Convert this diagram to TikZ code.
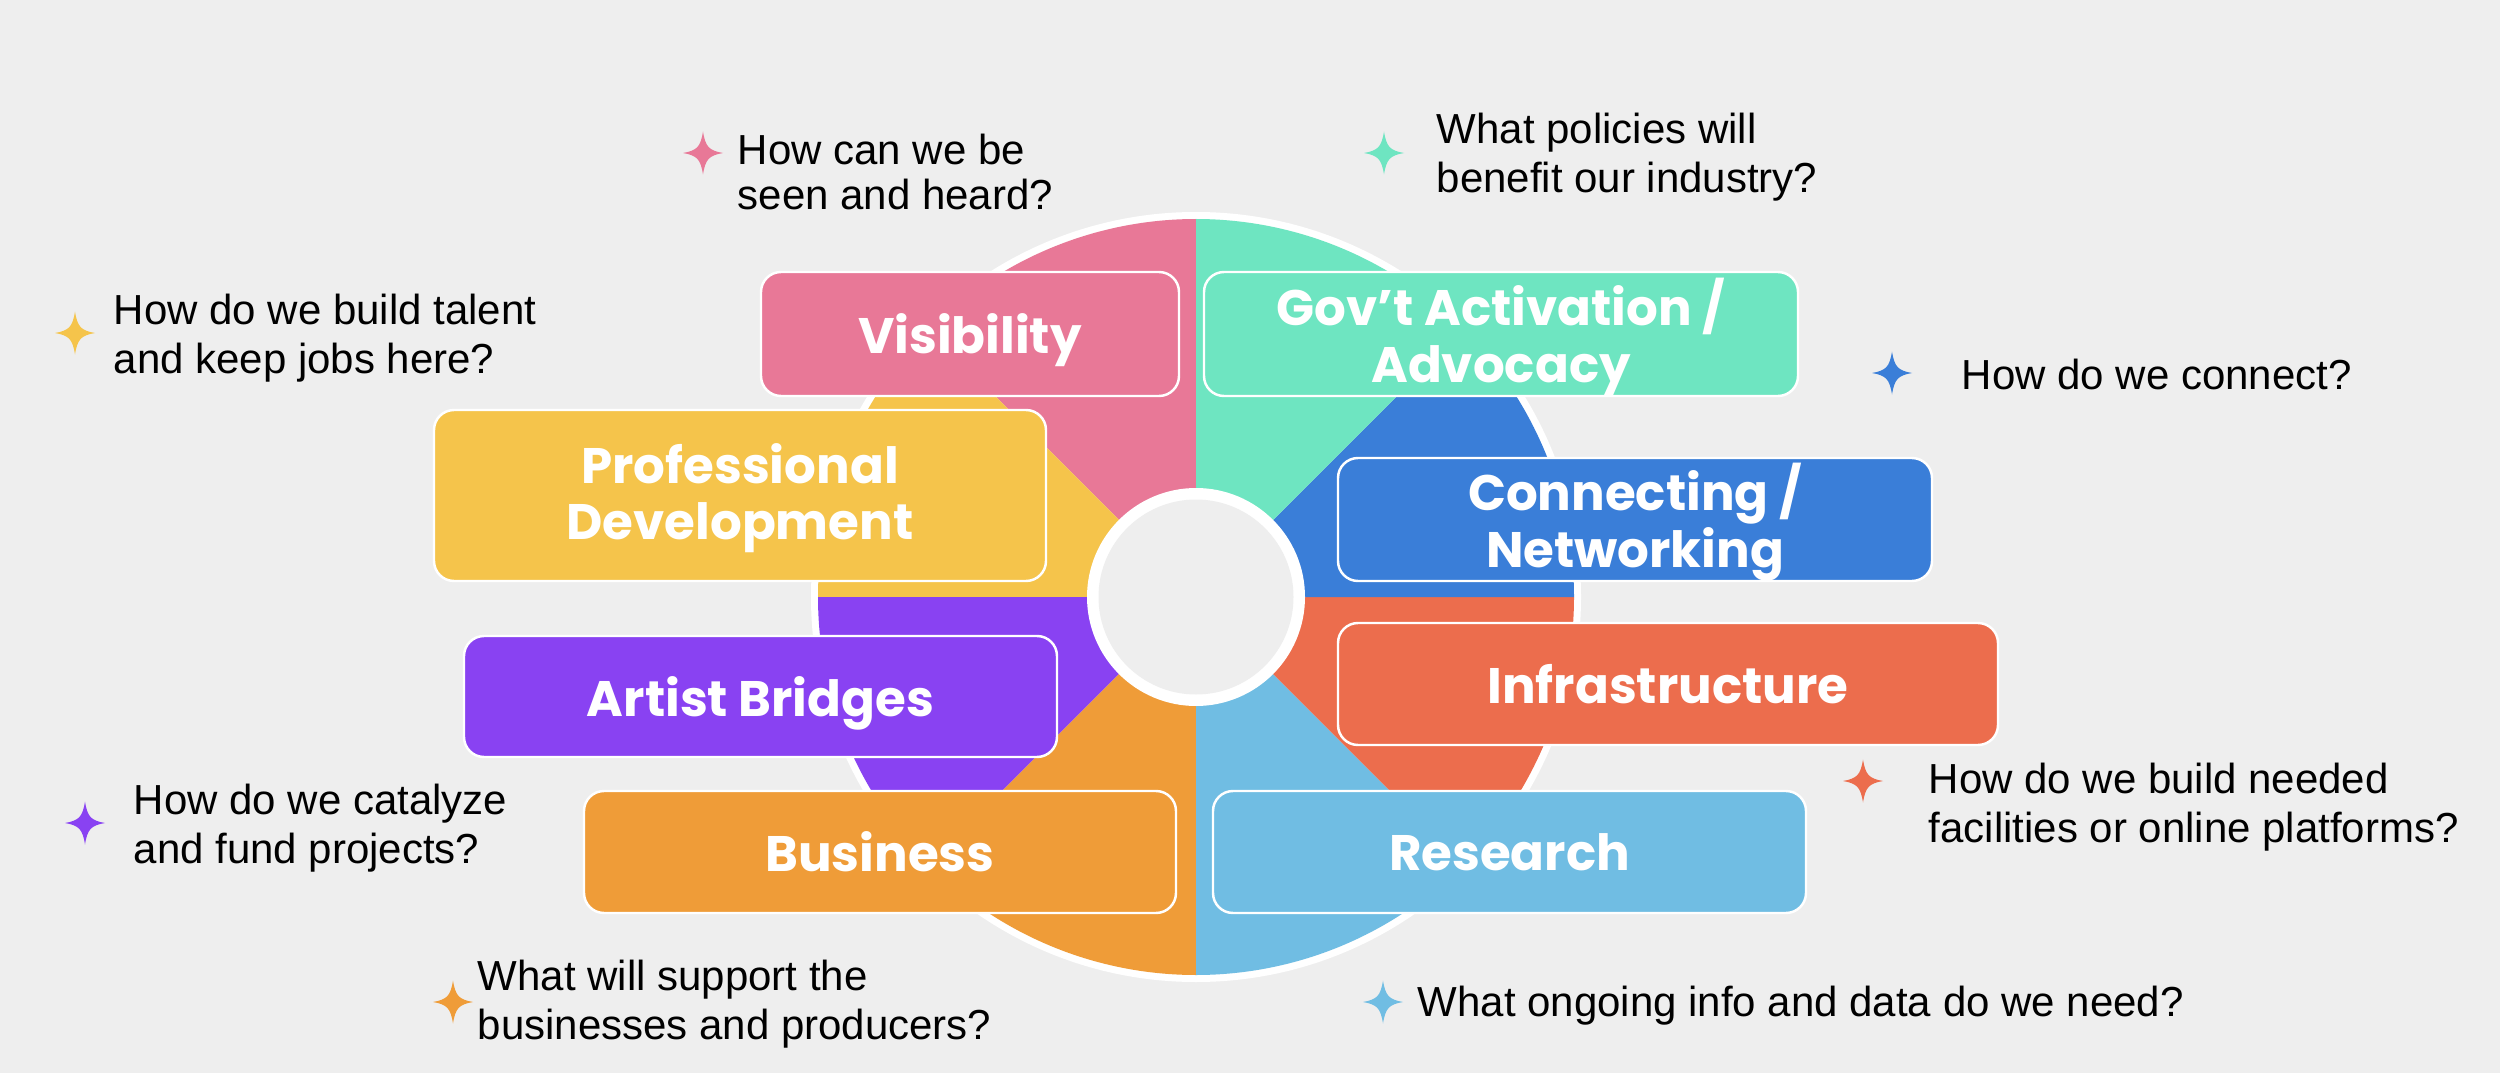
\documentclass[tikz,border=0pt]{standalone}
\usepackage{fontspec}
\setmainfont{Liberation Sans}
\newfontfamily\feldschrift{Poppins}
\definecolor{grund}{HTML}{EEEEEE}
\definecolor{vispink}{HTML}{E87897}
\definecolor{govgruen}{HTML}{6EE5C1}
\definecolor{netzblau}{HTML}{3A7ED8}
\definecolor{infrarot}{HTML}{EC6D4D}
\definecolor{reshblau}{HTML}{70BDE3}
\definecolor{busorange}{HTML}{EF9C38}
\definecolor{artlila}{HTML}{8942F2}
\definecolor{profgelb}{HTML}{F5C44B}
\newcommand{\fragefont}{\fontsize{11.95}{13.95}\selectfont}
\newcommand{\feldfont}{\feldschrift\bfseries\fontsize{14.2}{16.2}\selectfont}
\tikzset{feld/.style={draw=white,line width=0.7pt,rounded corners=2mm,
    text=white,font=\feldfont,align=center,inner sep=0pt,text depth=0pt},
  zweizeilig/.style={text depth=0.8mm},
  frage/.style={anchor=north west,inner sep=0pt,align=left,font=\fragefont,text=black}}
\newcommand{\funke}[3]{\fill[#1,shift={(#2,#3)}] (0,-21.5) .. controls (2.5,-6) and (6,-2.5) .. (20,0)
  .. controls (6,2.5) and (2.5,6) .. (0,21.5) .. controls (-2.5,6) and (-6,2.5) .. (-20,0)
  .. controls (-6,-2.5) and (-2.5,-6) .. (0,-21.5) -- cycle;}

\begin{document}
\begin{tikzpicture}[x=0.1mm,y=-0.1mm]
\useasboundingbox (0,0) rectangle (2500,1073);
\fill[grund] (0,0) rectangle (2500,1073);
% Rad
\coordinate (mitte) at (1196,597);
\fill[white] (mitte) circle (385);
\foreach \a/\c in {90/vispink,135/profgelb,180/artlila,225/busorange,270/reshblau,315/infrarot,0/netzblau,45/govgruen}
  \fill[\c] (mitte) -- ++(-\a:378) arc[start angle=-\a,end angle=-\a-45,radius=378] -- cycle;
\fill[white] (mitte) circle (109);
\fill[grund] (mitte) circle (97.5);
% Felder
\node[feld,fill=vispink,minimum width=41.8mm,minimum height=12.4mm] (visibility) at (970,334) {Visibility};
\node[feld,zweizeilig,fill=govgruen,minimum width=59.4mm,minimum height=12.4mm] (gov) at (1501,334) {Gov’t Activation /\\Advocacy};
\node[feld,zweizeilig,fill=profgelb,minimum width=61.2mm,minimum height=17.1mm] (prof) at (740,495.5) {Professional\\Development};
\node[feld,zweizeilig,fill=netzblau,minimum width=59.4mm,minimum height=12.3mm] (netz) at (1635,519.5) {Connecting /\\Networking};
\node[feld,fill=artlila,minimum width=59.3mm,minimum height=12.1mm] (artist) at (760.5,696.5) {Artist Bridges};
\node[feld,fill=infrarot,minimum width=66mm,minimum height=12.2mm] (infra) at (1668,684) {Infrastructure};
\node[feld,fill=busorange,minimum width=59.2mm,minimum height=12.2mm] (business) at (880,852) {Business};
\node[feld,fill=reshblau,minimum width=59.3mm,minimum height=12.2mm] (research) at (1509.5,852) {Research};
% Fragen
\funke{vispink}{703}{153}
\node[frage,font=\fontsize{11.95}{12.8}\selectfont] (fvis) at (737,133) {How can we be\\seen and heard?};
\funke{govgruen}{1384}{153}
\node[frage] (fgov) at (1436,112) {What policies will\\benefit our industry?};
\funke{profgelb}{75}{333}
\node[frage] (fprof) at (113,293) {How do we build talent\\and keep jobs here?};
\funke{netzblau}{1892}{373}
\node[frage] (fnetz) at (1961,358) {How do we connect?};
\funke{infrarot}{1863}{781}
\node[frage] (finfra) at (1928,762) {How do we build needed\\facilities or online platforms?};
\funke{artlila}{85}{823}
\node[frage] (fartist) at (133,783) {How do we catalyze\\and fund projects?};
\funke{busorange}{453}{1002}
\node[frage] (fbusiness) at (477,959) {What will support the\\businesses and producers?};
\funke{reshblau}{1383}{1002}
\node[frage] (fresearch) at (1417,985) {What ongoing info and data do we need?};
\end{tikzpicture}
\end{document}
